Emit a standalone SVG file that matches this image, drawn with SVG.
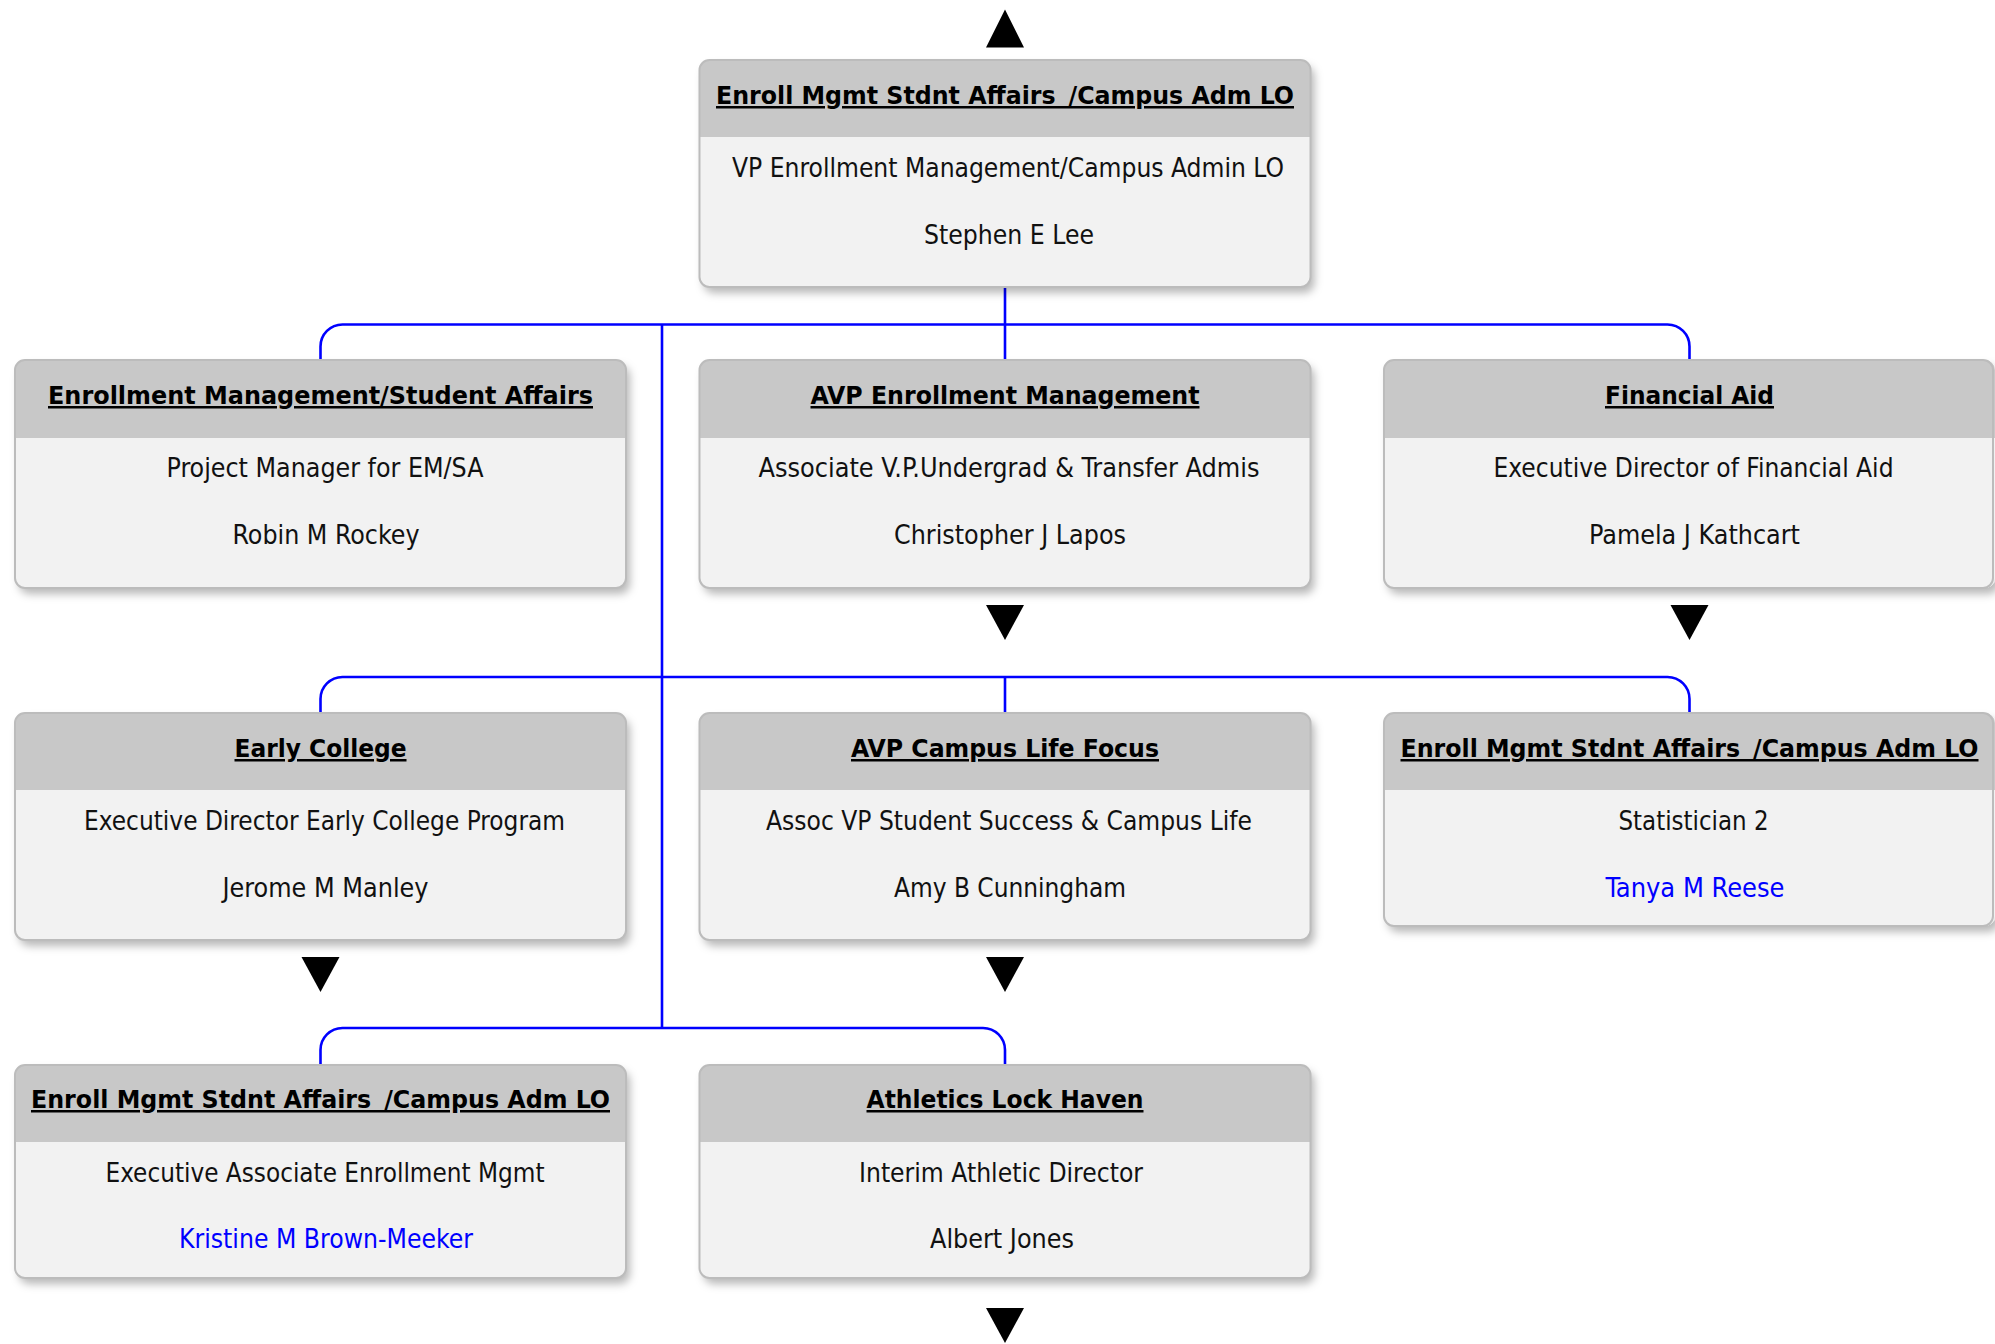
<svg xmlns="http://www.w3.org/2000/svg" width="1995" height="1344" viewBox="0 0 1995 1344">
<defs>
<filter id="sh" x="-5%" y="-5%" width="112%" height="115%">
<feDropShadow dx="4" dy="6" stdDeviation="4" flood-color="#000" flood-opacity="0.28"/>
</filter>
<style>
.bg{fill:#f2f2f2;}
.hdr{fill:#c8c8c8;}
.bd{fill:none;stroke:#bcbcbc;stroke-width:2;}
.sh{fill:#f2f2f2;filter:url(#sh);}
.t{font-family:"DejaVu Sans Condensed","DejaVu Sans",sans-serif;font-stretch:condensed;font-weight:bold;font-size:25px;fill:#000;text-anchor:middle;text-decoration:underline;}
.l{font-family:"DejaVu Sans Condensed","DejaVu Sans",sans-serif;font-stretch:condensed;font-size:26.5px;fill:#111;text-anchor:middle;}
.lk{fill:#0000ff;}
.c{fill:none;stroke:#0000ff;stroke-width:2.6;}
.ar{fill:#000;}
</style>
</defs>
<rect width="1995" height="1344" fill="#fff"/>

<g id="connectors">
<path class="c" d="M1005 287 V324.5"/>
<path class="c" d="M320.5 360 V346.5 A22 22 0 0 1 342.5 324.5 H1667.5 A22 22 0 0 1 1689.5 346.5 V360"/>
<path class="c" d="M1005 324.5 V360"/>
<path class="c" d="M662 324.5 V1028"/>
<path class="c" d="M320.5 713 V699 A22 22 0 0 1 342.5 677 H1667.5 A22 22 0 0 1 1689.5 699 V713"/>
<path class="c" d="M1005 677 V713"/>
<path class="c" d="M320.5 1065 V1050 A22 22 0 0 1 342.5 1028 H983 A22 22 0 0 1 1005 1050 V1065"/>
<polygon class="ar" points="1005,9.5 986,47.5 1024,47.5"/>
<polygon class="ar" points="986,605 1024,605 1005,640"/>
<polygon class="ar" points="1670.5,605 1708.5,605 1689.5,640"/>
<polygon class="ar" points="301.5,957 339.5,957 320.5,992"/>
<polygon class="ar" points="986,957 1024,957 1005,992"/>
<polygon class="ar" points="986,1308 1024,1308 1005,1343"/>
</g>

<g id="n0">
<rect class="sh" x="699.5" y="60" width="611" height="227" rx="10"/>
<path class="hdr" d="M699.5 70 A10 10 0 0 1 709.5 60 H1300.5 A10 10 0 0 1 1310.5 70 V137 H699.5 Z"/>
<rect class="bd" x="699.5" y="60" width="611" height="227" rx="10"/>
<text class="t" x="1005" y="104" textLength="578" lengthAdjust="spacingAndGlyphs">Enroll Mgmt Stdnt Affairs&#8201; /Campus Adm LO</text>
<text class="l" x="1008" y="177" textLength="552" lengthAdjust="spacingAndGlyphs">VP Enrollment Management/Campus Admin LO</text>
<text class="l" x="1009" y="244" textLength="170" lengthAdjust="spacingAndGlyphs">Stephen E Lee</text>
</g>

<g id="n1">
<rect class="sh" x="15" y="360" width="611" height="228" rx="10"/>
<path class="hdr" d="M15 370 A10 10 0 0 1 25 360 H616 A10 10 0 0 1 626 370 V438 H15 Z"/>
<rect class="bd" x="15" y="360" width="611" height="228" rx="10"/>
<text class="t" x="320.5" y="404" textLength="545" lengthAdjust="spacingAndGlyphs">Enrollment Management/Student Affairs</text>
<text class="l" x="325" y="477" textLength="317" lengthAdjust="spacingAndGlyphs">Project Manager for EM/SA</text>
<text class="l" x="326" y="544" textLength="187" lengthAdjust="spacingAndGlyphs">Robin M Rockey</text>
</g>

<g id="n2">
<rect class="sh" x="699.5" y="360" width="611" height="228" rx="10"/>
<path class="hdr" d="M699.5 370 A10 10 0 0 1 709.5 360 H1300.5 A10 10 0 0 1 1310.5 370 V438 H699.5 Z"/>
<rect class="bd" x="699.5" y="360" width="611" height="228" rx="10"/>
<text class="t" x="1005" y="404" textLength="389" lengthAdjust="spacingAndGlyphs">AVP Enrollment Management</text>
<text class="l" x="1009" y="477" textLength="501" lengthAdjust="spacingAndGlyphs">Associate V.P.Undergrad &amp; Transfer Admis</text>
<text class="l" x="1010" y="544" textLength="232" lengthAdjust="spacingAndGlyphs">Christopher J Lapos</text>
</g>

<g id="n3">
<rect class="sh" x="1384" y="360" width="611" height="228" rx="10"/>
<path class="hdr" d="M1384 370 A10 10 0 0 1 1394 360 H1985 A10 10 0 0 1 1995 370 V438 H1384 Z"/>
<rect class="bd" x="1384" y="360" width="609" height="228" rx="10"/>
<text class="t" x="1689.5" y="404" textLength="169" lengthAdjust="spacingAndGlyphs">Financial Aid</text>
<text class="l" x="1693.5" y="477" textLength="400" lengthAdjust="spacingAndGlyphs">Executive Director of Financial Aid</text>
<text class="l" x="1694.5" y="544" textLength="211" lengthAdjust="spacingAndGlyphs">Pamela J Kathcart</text>
</g>

<g id="n4">
<rect class="sh" x="15" y="713" width="611" height="227" rx="10"/>
<path class="hdr" d="M15 723 A10 10 0 0 1 25 713 H616 A10 10 0 0 1 626 723 V790 H15 Z"/>
<rect class="bd" x="15" y="713" width="611" height="227" rx="10"/>
<text class="t" x="320.5" y="757" textLength="172" lengthAdjust="spacingAndGlyphs">Early College</text>
<text class="l" x="324.5" y="830" textLength="481" lengthAdjust="spacingAndGlyphs">Executive Director Early College Program</text>
<text class="l" x="325.5" y="897" textLength="206" lengthAdjust="spacingAndGlyphs">Jerome M Manley</text>
</g>

<g id="n5">
<rect class="sh" x="699.5" y="713" width="611" height="227" rx="10"/>
<path class="hdr" d="M699.5 723 A10 10 0 0 1 709.5 713 H1300.5 A10 10 0 0 1 1310.5 723 V790 H699.5 Z"/>
<rect class="bd" x="699.5" y="713" width="611" height="227" rx="10"/>
<text class="t" x="1005" y="757" textLength="308" lengthAdjust="spacingAndGlyphs">AVP Campus Life Focus</text>
<text class="l" x="1009" y="830" textLength="486" lengthAdjust="spacingAndGlyphs">Assoc VP Student Success &amp; Campus Life</text>
<text class="l" x="1010" y="897" textLength="232" lengthAdjust="spacingAndGlyphs">Amy B Cunningham</text>
</g>

<g id="n6">
<rect class="sh" x="1384" y="713" width="611" height="213" rx="10"/>
<path class="hdr" d="M1384 723 A10 10 0 0 1 1394 713 H1985 A10 10 0 0 1 1995 723 V790 H1384 Z"/>
<rect class="bd" x="1384" y="713" width="609" height="213" rx="10"/>
<text class="t" x="1689.5" y="757" textLength="578" lengthAdjust="spacingAndGlyphs">Enroll Mgmt Stdnt Affairs&#8201; /Campus Adm LO</text>
<text class="l" x="1693.5" y="830" textLength="150" lengthAdjust="spacingAndGlyphs">Statistician 2</text>
<text class="l lk" x="1695" y="897" textLength="179" lengthAdjust="spacingAndGlyphs">Tanya M Reese</text>
</g>

<g id="n7">
<rect class="sh" x="15" y="1065" width="611" height="213" rx="10"/>
<path class="hdr" d="M15 1075 A10 10 0 0 1 25 1065 H616 A10 10 0 0 1 626 1075 V1142 H15 Z"/>
<rect class="bd" x="15" y="1065" width="611" height="213" rx="10"/>
<text class="t" x="320.5" y="1108" textLength="579" lengthAdjust="spacingAndGlyphs">Enroll Mgmt Stdnt Affairs&#8201; /Campus Adm LO</text>
<text class="l" x="325" y="1182" textLength="439" lengthAdjust="spacingAndGlyphs">Executive Associate Enrollment Mgmt</text>
<text class="l lk" x="326" y="1248" textLength="294" lengthAdjust="spacingAndGlyphs">Kristine M Brown-Meeker</text>
</g>

<g id="n8">
<rect class="sh" x="699.5" y="1065" width="611" height="213" rx="10"/>
<path class="hdr" d="M699.5 1075 A10 10 0 0 1 709.5 1065 H1300.5 A10 10 0 0 1 1310.5 1075 V1142 H699.5 Z"/>
<rect class="bd" x="699.5" y="1065" width="611" height="213" rx="10"/>
<text class="t" x="1005" y="1108" textLength="277" lengthAdjust="spacingAndGlyphs">Athletics Lock Haven</text>
<text class="l" x="1001" y="1182" textLength="284" lengthAdjust="spacingAndGlyphs">Interim Athletic Director</text>
<text class="l" x="1002" y="1248" textLength="144" lengthAdjust="spacingAndGlyphs">Albert Jones</text>
</g>
</svg>
